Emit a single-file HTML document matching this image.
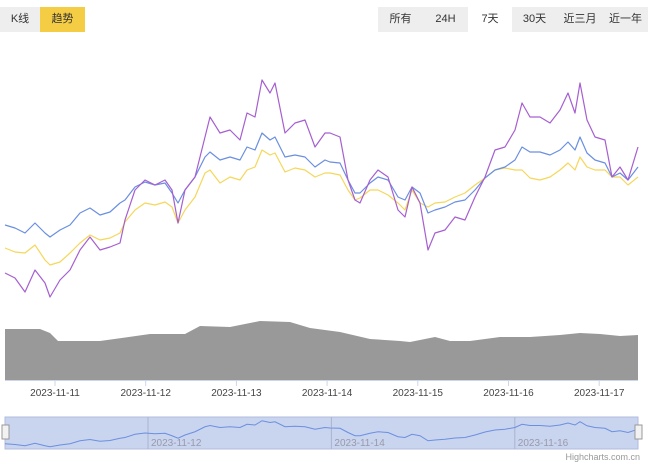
<!DOCTYPE html>
<html><head><meta charset="utf-8"><style>
body{margin:0;background:#fff;font-family:"Liberation Sans","Noto Sans CJK SC",sans-serif;}
#wrap{position:relative;width:650px;height:465px;overflow:hidden}
.btn{position:absolute;top:7px;height:25px;line-height:25px;font-size:11px;color:#333;text-align:center}
</style></head><body>
<div id="wrap">
<div class="btn" style="left:0;width:40px;background:#eee">K线</div>
<div class="btn" style="left:40px;width:45px;background:#f5cd45">趋势</div>
<div class="btn" style="left:378px;width:270px;background:#eee"></div>
<div class="btn" style="left:378px;width:45px">所有</div>
<div class="btn" style="left:423px;width:45px">24H</div>
<div class="btn" style="left:468px;width:44px;background:#fff">7天</div>
<div class="btn" style="left:512px;width:45px">30天</div>
<div class="btn" style="left:557px;width:46px">近三月</div>
<div class="btn" style="left:603px;width:45px">近一年</div>
<svg id="svg" width="650" height="465" style="position:absolute;left:0;top:0"></svg>
</div>
<script>
const xs=[5,15,25,35,45,50,60,70,80,90,100,110,120,125,135,145,155,165,172,178,185,195,205,210,220,230,240,247,255,262,270,275,285,295,305,315,325,330,340,348,355,360,370,378,388,398,405,412,420,428,435,445,455,465,475,485,495,505,515,522,530,540,550,560,568,575,580,587,595,605,612,620,628,638];
const purple=[273,278,292,270,283,297,280,270,250,237,250,247,243,220,190,180,185,180,190,223,190,177,137,117,133,130,140,113,117,80,93,83,133,123,120,147,133,133,137,180,200,203,180,170,177,210,217,187,203,250,233,230,217,220,197,177,150,147,130,103,117,117,123,110,93,113,83,120,137,140,177,167,180,147];
const blue=[225,228,233,223,233,237,230,225,213,208,215,212,203,200,187,182,185,183,193,203,190,177,157,152,160,157,160,147,150,133,140,137,157,155,157,167,160,162,163,180,193,193,183,177,180,197,200,187,193,213,210,207,202,200,190,178,170,167,160,147,152,152,155,150,142,150,137,153,160,163,177,173,180,167];
const yellow=[248,252,253,245,260,265,262,253,243,235,240,238,233,222,210,203,205,202,207,223,210,197,173,170,183,177,180,170,167,150,155,153,172,168,170,177,173,173,175,190,200,198,190,190,195,203,210,190,203,207,203,202,197,193,185,178,170,168,170,170,178,180,177,170,163,170,157,167,170,170,177,177,185,177];
const volX=[5,40,50,58,100,150,185,200,230,260,290,310,340,370,400,410,420,435,450,470,500,530,560,580,600,620,638];
const volTop=[329,329,333,341,341,334,334,326,327,321,322,328,332,339,341,342,340,337,341,341,337,337,335,333,334,336,335];
const dates=["2023-11-11","2023-11-12","2023-11-13","2023-11-14","2023-11-15","2023-11-16","2023-11-17"];
const dateDay=[0,1,2,3,4,5,6];
const navDates=["2023-11-12","2023-11-14","2023-11-16"];
const navDay=[1,3,5];
const X=d=>55+d*90.7, NX=d=>148+(d-1)*91.7;
const NY=v=>420+(v-130)*0.25;
const svg=document.getElementById('svg');const NS='http://www.w3.org/2000/svg';
function mk(t,a){const e=document.createElementNS(NS,t);for(const k in a)e.setAttribute(k,a[k]);svg.appendChild(e);return e;}
function line(arr,c,nm){const e=mk('path',{d:arr.map((y,i)=>(i?'L':'M')+xs[i]+','+y).join(''),fill:'none',stroke:c,'stroke-width':1.2,'stroke-linejoin':'round'});

}
const vol=mk('path',{d:'M5,380'+volX.map((x,i)=>'L'+x+','+volTop[i]).join('')+'L638,380Z',fill:'#999'});


mk('line',{x1:5,x2:638,y1:380.5,y2:380.5,stroke:'#ccd6eb'});
dates.forEach((d,i)=>{const x=X(dateDay[i]);mk('line',{x1:x,x2:x,y1:380,y2:386,stroke:'#ccd6eb'});
const t=mk('text',{x:x,y:396,'font-size':10,fill:'#444','text-anchor':'middle'});t.textContent=d;

});
line(yellow,'#f5d75a','series-yellow');line(blue,'#6b8fe0','series-blue');line(purple,'#a65fd0','series-purple');
const nav=mk('rect',{x:5,y:417,width:633,height:32,fill:'#c9d4ef',stroke:'#b0bcdc'});


navDates.forEach((d,i)=>{const x=NX(navDay[i]);mk('line',{x1:x,x2:x,y1:417,y2:449,stroke:'#aab4cc'});
const t=mk('text',{x:x+3,y:446,'font-size':10,fill:'#99a'});t.textContent=d;

});
const nl=mk('path',{d:blue.map((v,i)=>(i?'L':'M')+xs[i]+','+NY(v)).join(''),fill:'none',stroke:'#6b8fe0','stroke-width':1});


[3,636].forEach(x=>{const h=mk('rect',{x:x-1,y:425,width:7,height:14,fill:'#f2f2f2',stroke:'#999'});

});
const cr=mk('text',{x:640,y:460,'font-size':9,fill:'#999','text-anchor':'end'});cr.textContent='Highcharts.com.cn';


</script></body></html>
